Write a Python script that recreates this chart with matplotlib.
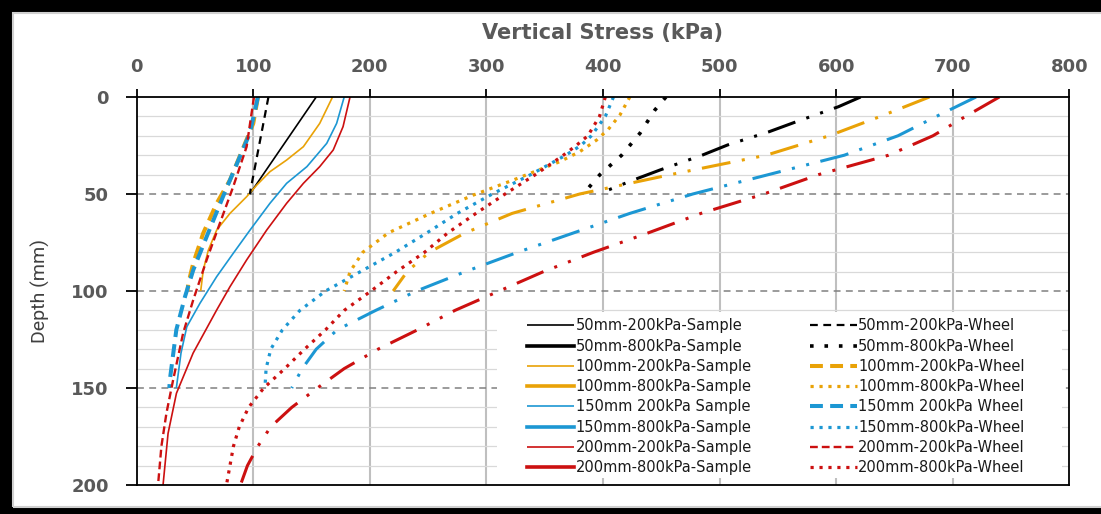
import numpy as np
import matplotlib.pyplot as plt
from matplotlib.lines import Line2D
from matplotlib.patches import Rectangle

# depth (mm) vs vertical stress (kPa)
d_50_200_s = [0, 50]
v_50_200_s = [154, 97]
d_50_800_s = [0, 5, 12.7, 18, 24.7, 30, 37.6, 42.8, 50]
v_50_800_s = [621, 602, 566, 542, 507, 485, 449, 426, 396]
d_100_200_s = [0, 13.6, 25.6, 32.5, 38.5, 45.4, 51.4, 60, 68.6, 79, 89.2, 100]
v_100_200_s = [168, 157, 143, 128.6, 114.3, 103, 94.3, 80, 68.6, 61.4, 57.1, 54.9]
d_100_800_s = [0, 10, 20, 30, 40, 50, 60, 70, 80, 90, 100]
v_100_800_s = [680, 638, 594, 540, 458, 380, 322, 282, 251, 232, 220]
d_150_200_s = [0, 13.6, 23.9, 35.9, 44.5, 54.8, 68.6, 80.6, 92.6, 106.3, 118.4, 132, 150]
v_150_200_s = [178, 171.5, 163, 146, 128.6, 114.3, 97.2, 82.8, 68.6, 54.3, 43, 38, 34]
d_150_800_s = [0, 10, 20, 30, 40, 50, 60, 70, 80, 90, 100, 110, 120, 130, 140, 150]
v_150_800_s = [720, 686, 653, 607, 542, 477, 423, 375, 327, 282, 240, 205, 172, 154, 142, 133]
d_200_200_s = [0, 15.3, 27.3, 35.9, 44.5, 54.8, 68.6, 84, 97.8, 109.8, 132, 152.7, 173.4, 200]
v_200_200_s = [183, 177, 168.6, 157, 143, 128.6, 111.5, 94.3, 80, 68.6, 48.4, 34.1, 26.9, 22.6]
d_200_800_s = [0, 10, 20, 30, 40, 50, 60, 70, 80, 90, 100, 110, 120, 130, 140, 150, 160, 170, 180, 190, 200]
v_200_800_s = [740, 711, 683, 645, 585, 538, 484, 439, 392, 349, 311, 273, 241, 207, 178, 155, 133, 115, 104, 95, 89]

d_50_200_w = [0, 50]
v_50_200_w = [113, 97]
d_50_800_w = [0, 6.7, 18.7, 30, 40, 50]
v_50_800_w = [454, 444.5, 431.7, 416, 397.4, 383]
d_100_200_w = [0, 13.6, 42.8, 54.8, 70.3, 85.7, 96, 100]
v_100_200_w = [104, 100, 80, 68.6, 57, 48.5, 44.3, 43.5]
d_100_800_w = [0, 9.3, 16.7, 22.2, 28.2, 33.3, 42.8, 50.5, 60, 70, 80, 90, 100]
v_100_800_w = [423, 414.5, 404.5, 394.5, 380, 363, 323, 289, 252, 216, 194, 183, 178]
d_150_200_w = [0, 18.7, 51.4, 72, 89.2, 103, 120, 146, 150]
v_150_200_w = [104, 97, 74, 60, 48.5, 41.4, 34, 28.4, 28]
d_150_800_w = [0, 10, 20, 25, 30, 35, 40, 50, 60, 70, 80, 90, 100, 110, 120, 130, 140, 150]
v_150_800_w = [409, 402, 390, 381, 368, 353, 338, 305, 275, 249, 222, 192, 162, 140, 125, 115, 111, 110]
d_200_200_w = [0, 25.6, 46.2, 65, 84, 104.6, 121.8, 146, 163, 180, 200]
v_200_200_w = [100.6, 94.3, 82.8, 71.4, 60, 48.5, 39.8, 31.2, 25.5, 21.2, 18.3]
d_200_800_w = [0, 10, 20, 25, 30, 40, 50, 60, 70, 80, 90, 100, 110, 120, 130, 140, 150, 160, 170, 180, 190, 200]
v_200_800_w = [402, 397, 387, 377, 366, 342, 316, 291, 267, 247, 223, 201, 178, 162, 144, 127, 109, 96, 88, 83, 80, 77]

x_ticks = [0, 100, 200, 300, 400, 500, 600, 700, 800]
y_ticks = [0, 50, 100, 150, 200]

BLACK = "#000000"
ORANGE = "#E9A207"
BLUE = "#1C97D3"
RED = "#CC1010"
GREY_TXT = "#595959"

fig = plt.figure(figsize=(11.01, 5.14), dpi=100)
ax = fig.add_axes([136.7 / 1101, 1 - 485 / 514, (1069.3 - 136.7) / 1101, (485 - 97) / 514])

# picture frame
fig.patches.append(Rectangle((0, 1 - 12 / 514), 1, 12 / 514, transform=fig.transFigure, color="black", zorder=0))
fig.patches.append(Rectangle((0, 0), 12 / 1101, 1, transform=fig.transFigure, color="black", zorder=0))
fig.patches.append(Rectangle((0, 0), 1, 6 / 514, transform=fig.transFigure, color="black", zorder=0))
fig.patches.append(Rectangle((13 / 1101, 7 / 514), 1.2, 1 - 20 / 514, transform=fig.transFigure,
                             fill=False, edgecolor="#D0D0D0", linewidth=1.5, zorder=0))

# grid
for x in x_ticks[1:-1]:
    ax.axvline(x, color="#BFBFBF", lw=1.5, zorder=1)
for y in range(10, 200, 10):
    if y % 50:
        ax.axhline(y, color="#D9D9D9", lw=0.9, zorder=1)
    else:
        ax.axhline(y, color="#808080", lw=1.1, ls=(0, (4.5, 3.5)), zorder=1)

# white plate behind the legend hides the grid there
ax.add_patch(Rectangle((309, 111), 485, 85.5, facecolor="white", edgecolor="none", zorder=1.5))

thin = dict(lw=1.2, solid_capstyle="butt")
ddot = dict(lw=2.2, ls=(0, (9.5, 3.8, 1, 3.8, 1, 3.8)))
dots = dict(lw=2.3, ls=(0, (1, 1.8)))

l1, = ax.plot(v_50_200_s, d_50_200_s, color=BLACK, label="50mm-200kPa-Sample", **thin)
ax.plot(v_50_800_s, d_50_800_s, color=BLACK, **ddot)
l3, = ax.plot(v_100_200_s, d_100_200_s, color=ORANGE, label="100mm-200kPa-Sample", **thin)
ax.plot(v_100_800_s, d_100_800_s, color=ORANGE, **ddot)
l5, = ax.plot(v_150_200_s, d_150_200_s, color=BLUE, label="150mm 200kPa Sample", **thin)
ax.plot(v_150_800_s, d_150_800_s, color=BLUE, **ddot)
l7, = ax.plot(v_200_200_s, d_200_200_s, color=RED, label="200mm-200kPa-Sample", **thin)
ax.plot(v_200_800_s, d_200_800_s, color=RED, **ddot)

w1, = ax.plot(v_50_200_w, d_50_200_w, color=BLACK, lw=1.6, ls=(0, (3.5, 2.5)), label="50mm-200kPa-Wheel")
w2, = ax.plot(v_50_800_w, d_50_800_w, color=BLACK, lw=2.6, ls=(0, (1, 3)), label="50mm-800kPa-Wheel")
w3, = ax.plot(v_100_200_w, d_100_200_w, color=ORANGE, lw=2.9, ls=(0, (3.2, 1.8)), label="100mm-200kPa-Wheel")
w4, = ax.plot(v_100_800_w, d_100_800_w, color=ORANGE, label="100mm-800kPa-Wheel", **dots)
w5, = ax.plot(v_150_200_w, d_150_200_w, color=BLUE, lw=2.9, ls=(0, (3.2, 1.8)), label="150mm 200kPa Wheel")
w6, = ax.plot(v_150_800_w, d_150_800_w, color=BLUE, label="150mm-800kPa-Wheel", **dots)
w7, = ax.plot(v_200_200_w, d_200_200_w, color=RED, lw=1.7, ls=(0, (3.3, 1.7)), label="200mm-200kPa-Wheel")
w8, = ax.plot(v_200_800_w, d_200_800_w, color=RED, label="200mm-800kPa-Wheel", **dots)

# legend shows the 800kPa samples as thick solid lines
p2 = Line2D([], [], color=BLACK, lw=2.6, label="50mm-800kPa-Sample")
p4 = Line2D([], [], color=ORANGE, lw=2.6, label="100mm-800kPa-Sample")
p6 = Line2D([], [], color=BLUE, lw=2.6, label="150mm-800kPa-Sample")
p8 = Line2D([], [], color=RED, lw=2.6, label="200mm-800kPa-Sample")
handles = [l1, p2, l3, p4, l5, p6, l7, p8, w1, w2, w3, w4, w5, w6, w7, w8]

ax.set_xlim(0, 800)
ax.set_ylim(200, 0)
ax.set_xticks(x_ticks)
ax.set_yticks(y_ticks)
ax.xaxis.tick_top()
ax.xaxis.set_label_position("top")
ax.tick_params(axis="x", direction="out", length=6, width=1.3, pad=9, labelsize=13, labelcolor=GREY_TXT)
ax.tick_params(axis="y", direction="out", length=8, width=1.3, pad=12, labelsize=13, labelcolor=GREY_TXT)
for lab in ax.get_xticklabels() + ax.get_yticklabels():
    lab.set_fontweight("bold")
for s in ax.spines.values():
    s.set_linewidth(1.3)
    s.set_zorder(5)

ax.set_xlabel("Vertical Stress (kPa)", fontsize=15, fontweight="bold", color=GREY_TXT, labelpad=14)
fig.text(40 / 1101, 1 - 291 / 514, "Depth (mm)", rotation=90, ha="center", va="center",
         fontsize=14, color="#404040", family="Roboto")

leg = ax.legend(handles=handles, ncol=2, loc="upper left",
                bbox_to_anchor=((523 - 136.7) / 932.6, (485 - 314) / 388),
                fontsize=10.5, frameon=False,
                handlelength=3.2, handletextpad=0.1, columnspacing=4.0, labelspacing=0.36,
                borderpad=0.3, borderaxespad=0)
for t in leg.get_texts():
    t.set_color("#1A1A1A")
leg.set_zorder(10)

fig.savefig("out.png", dpi=100)
